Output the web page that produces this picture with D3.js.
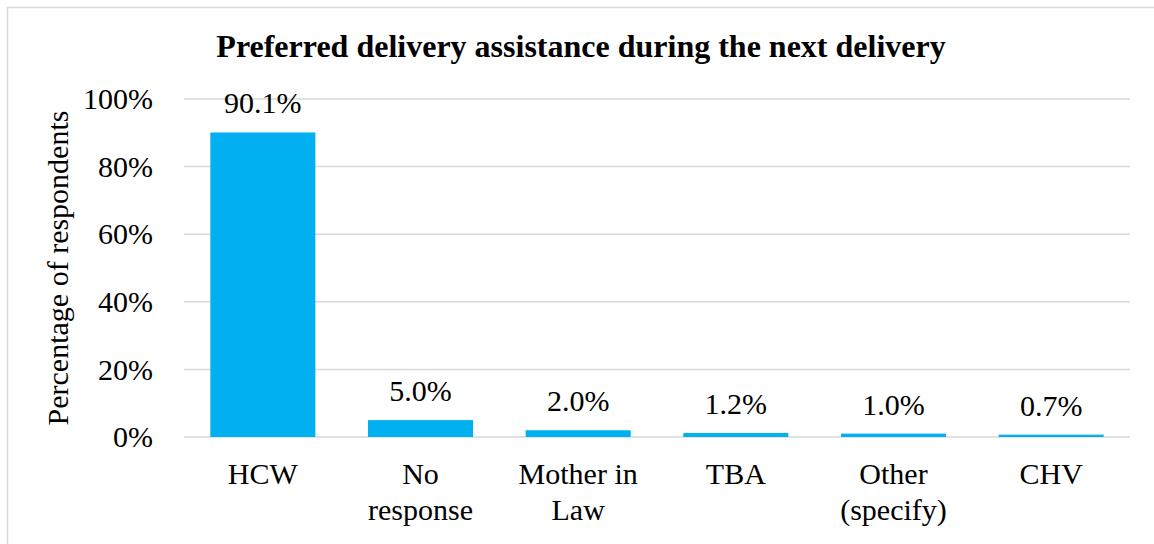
<!DOCTYPE html>
<html>
<head>
<meta charset="utf-8">
<script src="https://cdn.jsdelivr.net/npm/d3@7/dist/d3.min.js"></script>
<style>
  html, body { margin: 0; padding: 0; background: #fff; }
  svg { display: block; }
</style>
</head>
<body>
<svg id="chart" width="1154" height="544"></svg>
<script>
const categories = [["HCW"], ["No", "response"], ["Mother in", "Law"], ["TBA"], ["Other", "(specify)"], ["CHV"]];
const values = [90.1, 5.0, 2.0, 1.2, 1.0, 0.7];
const yTicks = [0, 20, 40, 60, 80, 100];
const title = "Preferred delivery assistance during the next delivery";
const yLabel = "Percentage of respondents";

const FONT = "Liberation Serif";
const svg = d3.select("#chart").attr("font-family", FONT);
const plot = { left: 184, right: 1130, top: 99, bottom: 437 };

// chart frame
svg.append("rect")
  .attr("x", 7.5).attr("y", 7.5)
  .attr("width", 1160).attr("height", 560)
  .attr("fill", "#fff").attr("stroke", "#d9d9d9").attr("stroke-width", 1.5);

const x = d3.scaleBand()
  .domain(d3.range(categories.length))
  .range([plot.left, plot.right])
  .paddingInner(0.334).paddingOuter(0.167);

const y = d3.scaleLinear().domain([0, 100]).range([plot.bottom, plot.top]);

// gridlines
svg.append("g").selectAll("line").data(yTicks).join("line")
  .attr("x1", plot.left).attr("x2", plot.right)
  .attr("y1", d => y(d)).attr("y2", d => y(d))
  .attr("stroke", "#d9d9d9").attr("stroke-width", 1.5);

// y tick labels
const yAxis = d3.axisLeft(y).tickValues(yTicks).tickFormat(d => d + "%").tickSize(0).tickPadding(0);
const gy = svg.append("g").attr("transform", `translate(153,0)`).call(yAxis);
gy.attr("font-family", FONT).attr("font-size", 30);
gy.select(".domain").remove();
gy.selectAll("text")
  .attr("font-family", FONT)
  .attr("font-size", 30).attr("fill", "#000").attr("dy", "0.32em");

// bars
svg.append("g").selectAll("rect").data(values).join("rect")
  .attr("x", (d, i) => x(i))
  .attr("width", x.bandwidth())
  .attr("y", d => y(d))
  .attr("height", d => y(0) - y(d))
  .attr("fill", "#00b0f0");

// value labels
svg.append("g").selectAll("text").data(values).join("text")
  .attr("x", (d, i) => x(i) + x.bandwidth() / 2)
  .attr("y", d => y(d) - 19)
  .attr("text-anchor", "middle")
  .attr("font-family", FONT)
  .attr("font-size", 30)
  .attr("fill", "#000")
  .text(d => d.toFixed(1) + "%");

// category labels
const cat = svg.append("g").selectAll("text").data(categories).join("text")
  .attr("x", (d, i) => x(i) + x.bandwidth() / 2)
  .attr("y", 484)
  .attr("text-anchor", "middle")
  .attr("font-family", FONT)
  .attr("font-size", 30)
  .attr("fill", "#000");
cat.selectAll("tspan").data(d => d).join("tspan")
  .attr("x", function() { return d3.select(this.parentNode).attr("x"); })
  .attr("dy", (d, i) => i === 0 ? 0 : 36)
  .text(d => d);

// title
svg.append("text")
  .attr("x", 581).attr("y", 57)
  .attr("text-anchor", "middle")
  .attr("font-family", FONT)
  .attr("font-size", 32).attr("font-weight", "bold")
  .attr("fill", "#000")
  .text(title);

// y axis label
svg.append("text")
  .attr("transform", `translate(68,${(plot.top + plot.bottom) / 2}) rotate(-90)`)
  .attr("text-anchor", "middle")
  .attr("font-family", FONT)
  .attr("font-size", 30)
  .attr("fill", "#000")
  .text(yLabel);
</script>
</body>
</html>
